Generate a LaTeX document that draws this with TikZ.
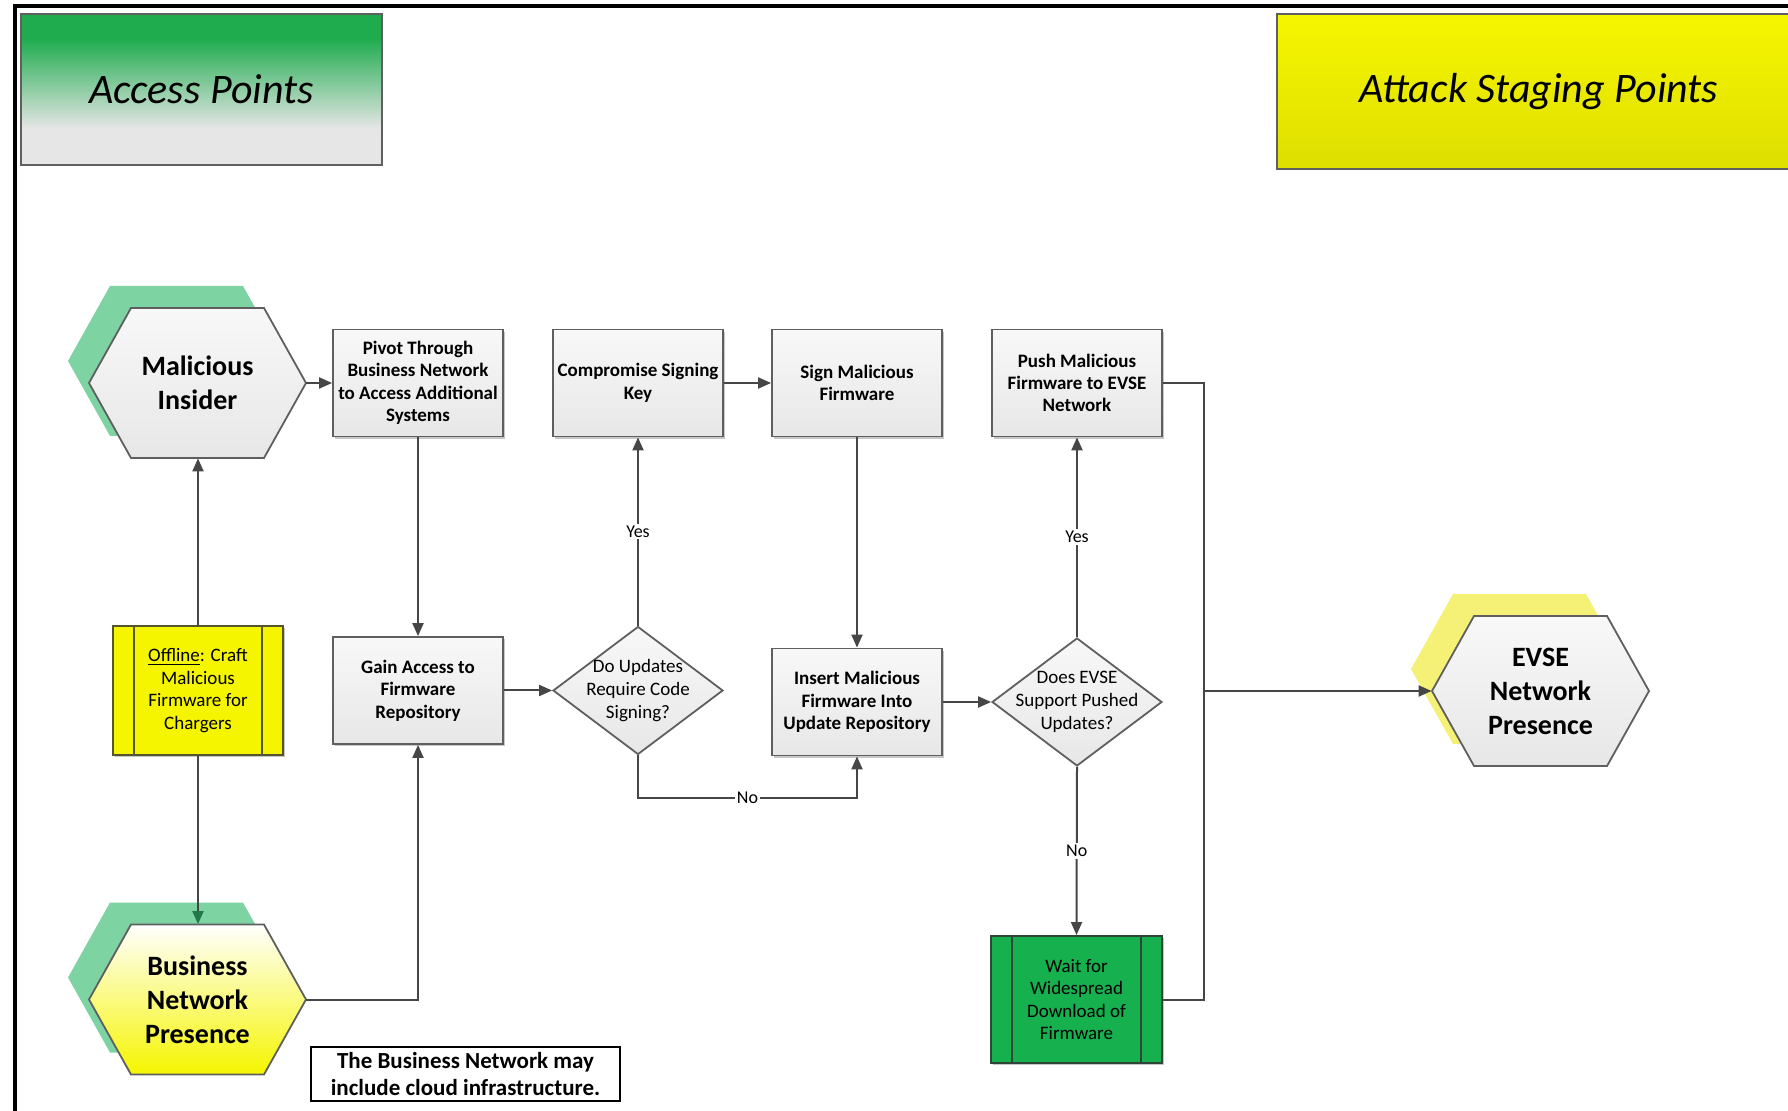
\documentclass[tikz,border=0pt]{standalone}
\usepackage{fontspec}
\setmainfont{Carlito}
\usetikzlibrary{arrows.meta,shapes.geometric,shadows,calc}

\definecolor{apgreen}{RGB}{30,172,78}
\definecolor{apgray}{RGB}{230,230,230}
\definecolor{stageyel}{RGB}{246,246,0}
\definecolor{stageyeldark}{RGB}{222,222,0}
\definecolor{boxtop}{RGB}{248,248,248}
\definecolor{boxbot}{RGB}{231,231,231}
\definecolor{edgegray}{RGB}{95,95,95}
\definecolor{linegray}{RGB}{70,70,70}
\definecolor{mintshadow}{RGB}{126,211,163}
\definecolor{paleyel}{RGB}{245,241,118}
\definecolor{offyel}{RGB}{245,245,0}
\definecolor{offedge}{RGB}{85,85,45}
\definecolor{waitgreen}{RGB}{22,176,78}
\definecolor{waitedge}{RGB}{45,70,55}
\definecolor{tipgreen}{RGB}{35,120,75}

% green-to-grey fade of the left header (path spans 25bp..75bp)
\pgfdeclareverticalshading{accessshade}{100bp}{%
  color(0bp)=(apgray); color(37bp)=(apgray); color(67bp)=(apgreen); color(100bp)=(apgreen)}

\tikzset{
  hexa/.pic={\path[pic actions] (-108.5,0) -- (-66.5,-75) -- (66.5,-75)
      -- (108.5,0) -- (66.5,75) -- (-66.5,75) -- cycle;},
  hexedge/.style={draw=edgegray, line width=0.9pt},
  hexlabel/.style={rectangle, minimum width=108.5pt, minimum height=75pt,
      inner sep=0pt, align=center, font=\fontsize{14}{17}\selectfont\bfseries},
  softshadow/.style={drop shadow={shadow xshift=1.2pt, shadow yshift=-1.2pt,
      fill=black, opacity=0.22}},
  procbox/.style={rectangle, draw=edgegray, line width=0.9pt, top color=boxtop,
      bottom color=boxbot, minimum width=85pt, minimum height=53.5pt,
      align=center, inner sep=2pt, softshadow,
      font=\fontsize{9.5}{11.2}\selectfont\bfseries},
  dia/.style={diamond, draw=edgegray, line width=0.9pt, top color=boxtop,
      bottom color=boxbot, minimum width=85pt, minimum height=64pt, inner sep=0pt},
  dtext/.style={align=center, inner sep=0pt, font=\fontsize{9.5}{11.4}\selectfont},
  sidebox/.style={rectangle, line width=0.9pt, minimum width=85pt,
      minimum height=64pt, align=center, inner sep=2pt, softshadow,
      font=\fontsize{9.5}{11.3}\selectfont},
  sidebar/.style={line width=0.9pt},
  hdrbox/.style={rectangle, draw=edgegray, line width=0.9pt,
      font=\fontsize{21}{25}\selectfont\itshape},
  conn/.style={draw=linegray, line width=1pt, -{Triangle[length=6.5pt,width=5.5pt]}},
  plainline/.style={draw=linegray, line width=1pt},
  lbl/.style={fill=white, inner sep=1pt, font=\fontsize{9}{10}\selectfont},
  notebox/.style={rectangle, draw=black, fill=white, line width=0.9pt,
      minimum width=154.5pt, minimum height=27pt, align=center, inner sep=1pt,
      font=\fontsize{11.5}{13.5}\selectfont\bfseries}
}

\begin{document}
\begin{tikzpicture}[x=0.5pt, y=-0.5pt]
\useasboundingbox (0,0) rectangle (1788,1111);

% page frame (top and left edges)
\draw[line width=2pt, black] (15,1130) -- (15,6.5) -- (1810,6.5);

% headers
\node[hdrbox, shade, shading=accessshade, minimum width=180.5pt,
      minimum height=75.5pt] (ap) at (201.5,89.5) {Access Points};
\node[hdrbox, top color=stageyel, bottom color=stageyeldark, minimum width=262pt,
      minimum height=77.5pt] (asp) at (1539,91.5) {Attack Staging Points};

% hexagon shapes with their offset back plates
\pic[fill=mintshadow] at (176.5,361) {hexa};
\pic[hexedge, top color=boxtop, bottom color=boxbot] at (197.5,383) {hexa};
\pic[fill=mintshadow] at (176.5,977.5) {hexa};
\pic[hexedge, top color=white, bottom color=offyel] at (197.5,999.5) {hexa};
\pic[fill=paleyel] at (1519.5,669) {hexa};
\pic[hexedge, top color=boxtop, bottom color=boxbot] at (1540.5,691) {hexa};

\node[hexlabel] (mi) at (197.5,383) {Malicious\\Insider};
\node[hexlabel] (bnp) at (197.5,999.5) {Business\\Network\\Presence};
\node[hexlabel] (evse) at (1540.5,691) {EVSE\\Network\\Presence};

% process steps
\node[procbox] (pivot) at (418,383) {Pivot Through\\Business Network\\to Access Additional\\Systems};
\node[procbox] (comp) at (638,383) {Compromise Signing\\Key};
\node[procbox] (sign) at (857,383) {Sign Malicious\\Firmware};
\node[procbox] (push) at (1077,383) {Push Malicious\\Firmware to EVSE\\Network};
\node[procbox] (gain) at (418,690.5) {Gain Access to\\Firmware\\Repository};
\node[procbox] (insert) at (857,702) {Insert Malicious\\Firmware Into\\Update Repository};

% decisions
\node[dia] (d1) at (638,690.5) {};
\node[dtext] (d1t) at (d1) {Do Updates\\Require Code\\Signing?};
\node[dia] (d2) at (1077,702) {};
\node[dtext] (d2t) at (d2) {Does EVSE\\Support Pushed\\Updates?};

% predefined processes
\node[sidebox, fill=offyel, draw=offedge, minimum height=64.5pt] (off) at (198,690.5)
  {\underline{Offline}: Craft\\Malicious\\Firmware for\\Chargers};
\draw[sidebar, offedge] ([xshift=11pt]off.north west) -- ([xshift=11pt]off.south west);
\draw[sidebar, offedge] ([xshift=-11pt]off.north east) -- ([xshift=-11pt]off.south east);

\node[sidebox, fill=waitgreen, draw=waitedge, minimum width=85.5pt, minimum height=63.5pt]
  (wait) at (1076.5,999.5) {Wait for\\Widespread\\Download of\\Firmware};
\draw[sidebar, waitedge] ([xshift=11pt]wait.north west) -- ([xshift=11pt]wait.south west);
\draw[sidebar, waitedge] ([xshift=-11pt]wait.north east) -- ([xshift=-11pt]wait.south east);

% note
\node[notebox] (note) at (465.5,1074) {The Business Network may\\include cloud infrastructure.};

% connectors
\draw[conn] (mi.east) -- (pivot.west);
\draw[conn] (pivot.south) -- (gain.north);
\draw[conn] (off.north) -- (off.north |- mi.south);
\draw[plainline, -{Triangle[length=6.5pt,width=5.5pt,color=tipgreen]}]
  (off.south) -- (off.south |- bnp.north);
\draw[conn] (bnp.east) -| (gain.south);
\draw[conn] (gain.east) -- (d1.west);
\draw[conn] (d1.north) -- node[lbl] {Yes} (comp.south);
\draw[conn] (d1.south) -- ++(0,42.5) -| node[lbl, pos=0.25] {No} (insert.south);
\draw[conn] (comp.east) -- (sign.west);
\draw[conn] (sign.south) -- (insert.north);
\draw[conn] (insert.east) -- (d2.west);
\draw[conn] (d2.north) -- node[lbl] {Yes} (push.south);
\draw[conn] (d2.south) -- node[lbl] {No} (wait.north);
\coordinate (merge) at (1204,691);
\draw[plainline] (push.east) -| (merge);
\draw[plainline] (wait.east) -| (merge);
\draw[conn] (merge) -- (evse.west);
\end{tikzpicture}
\end{document}
